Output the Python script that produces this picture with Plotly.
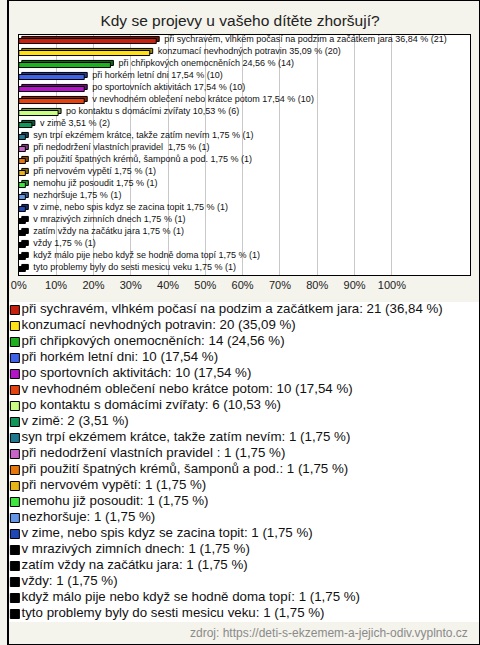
import plotly.graph_objects as go

categories = [
    "při sychravém, vlhkém počasí na podzim a začátkem jara",
    "konzumací nevhodných potravin",
    "při chřipkových onemocněních",
    "při horkém letní dni",
    "po sportovních aktivitách",
    "v nevhodném oblečení nebo krátce potom",
    "po kontaktu s domácími zvířaty",
    "v zimě",
    "syn trpí ekzémem krátce, takže zatím nevím",
    "při nedodržení vlastních pravidel ",
    "při použití špatných krémů, šamponů a pod.",
    "při nervovém vypětí",
    "nemohu již posoudit",
    "nezhoršuje",
    "v zime, nebo spis kdyz se zacina topit",
    "v mrazivých zimních dnech",
    "zatím vždy na začátku jara",
    "vždy",
    "když málo pije nebo když se hodně doma topí",
    "tyto problemy byly do sesti mesicu veku",
]
counts = [21, 20, 14, 10, 10, 10, 6, 2, 1, 1, 1, 1, 1, 1, 1, 1, 1, 1, 1, 1]
percents = [36.84, 35.09, 24.56, 17.54, 17.54, 17.54, 10.53, 3.51,
            1.75, 1.75, 1.75, 1.75, 1.75, 1.75, 1.75, 1.75, 1.75, 1.75, 1.75, 1.75]
colors = ["#c8200e", "#ffe014", "#1fb01f", "#3f63e8", "#b414c8", "#e4420e",
          "#c8ff82", "#13965a", "#1e7890", "#c864c8", "#e6780a", "#e6b414",
          "#3ce63c", "#6496e6", "#1e46b4", "#000000", "#000000", "#000000",
          "#000000", "#000000"]
tick_vals = [0, 10, 20, 30, 40, 50, 60, 70, 80, 90, 100]
tick_text = [f"{v}%" for v in tick_vals]

title = "Kdy se projevy u vašeho dítěte zhoršují?"
source = "zdroj: https://deti-s-ekzemem-a-jejich-odiv.vyplnto.cz"


def fmt(p):
    return f"{p:.2f}".replace(".", ",")


def darken(hexc, f=0.6):
    r, g, b = int(hexc[1:3], 16), int(hexc[3:5], 16), int(hexc[5:7], 16)
    return "#%02x%02x%02x" % (int(r * f), int(g * f), int(b * f))


bar_labels = [f"  {c} {fmt(p)} % ({n})" for c, p, n in zip(categories, percents, counts)]
legend_labels = [f"{c}: {n} ({fmt(p)} %)" for c, p, n in zip(categories, percents, counts)]

W, H = 480, 645
BG = "#f4f3ec"

fig = go.Figure()

# depth (3D side) of bars
fig.add_trace(go.Bar(
    y=categories, x=percents, orientation="h", base=0.8,
    width=0.42, offset=-0.21 - 0.17,
    marker=dict(color=[darken(c) for c in colors], line=dict(color="#000", width=1)),
    text=bar_labels, textposition="outside", constraintext="none", cliponaxis=False,
    textfont=dict(family="Liberation Sans", size=9, color="#111"),
    hoverinfo="skip", showlegend=False,
))
# front face
fig.add_trace(go.Bar(
    y=categories, x=percents, orientation="h",
    width=0.42, offset=-0.21,
    marker=dict(color=colors, line=dict(color="#000", width=1)),
    hoverinfo="skip", showlegend=False,
))

# legend drawn as a small scatter on its own axes
fig.add_trace(go.Scatter(
    x=[7] * len(categories), y=list(range(len(categories))),
    xaxis="x2", yaxis="y2", mode="markers+text",
    marker=dict(symbol="square", size=9, color=colors, line=dict(color="#000", width=1)),
    text=legend_labels, textposition="middle right",
    textfont=dict(family="Liberation Sans", size=13.3, color="#111"),
    hoverinfo="skip", showlegend=False, cliponaxis=False,
))

fig.update_layout(
    width=W, height=H,
    margin=dict(l=0, r=0, t=0, b=0),
    paper_bgcolor=BG, plot_bgcolor="#ffffff",
    barmode="overlay",
    title=dict(text=title, x=0.5, xanchor="center", y=1 - 21 / H, yanchor="middle",
               font=dict(family="Liberation Sans", size=15.5, color="#222")),
    xaxis=dict(domain=[11 / W, 470 / W], range=[0, 121], tickvals=tick_vals, ticktext=tick_text,
               showgrid=True, gridcolor="#c8c8c8", gridwidth=1, zeroline=False,
               showline=True, linecolor="#000", linewidth=1, mirror=True, ticks="",
               tickfont=dict(family="Liberation Sans", size=11, color="#222"), fixedrange=True),
    yaxis=dict(domain=[1 - 275 / H, 1 - 35 / H], autorange="reversed", showticklabels=False,
               showgrid=False, zeroline=False, showline=True, linecolor="#000", linewidth=1,
               mirror=True, ticks="", fixedrange=True),
    xaxis2=dict(domain=[0, 1], range=[0, W], visible=False, anchor="y2", fixedrange=True),
    yaxis2=dict(domain=[1 - 622 / H, 1 - 302 / H], range=[len(categories) - 0.5, -0.5],
                visible=False, anchor="x2", fixedrange=True),
    showlegend=False,
    annotations=[dict(text=source, xref="paper", yref="paper", x=470 / W, y=1 - 633 / H,
                      xanchor="right", yanchor="middle", showarrow=False,
                      font=dict(family="Liberation Sans", size=12, color="#8a8a8a"))],
    shapes=[dict(type="rect", xref="paper", yref="paper", x0=0, y0=0, x1=1, y1=1,
                 line=dict(color="#000", width=2), layer="above")],
)

fig.write_html("out.html", config={"displayModeBar": False},
               post_script="document.body.style.margin='0';document.body.style.overflow='hidden';")
